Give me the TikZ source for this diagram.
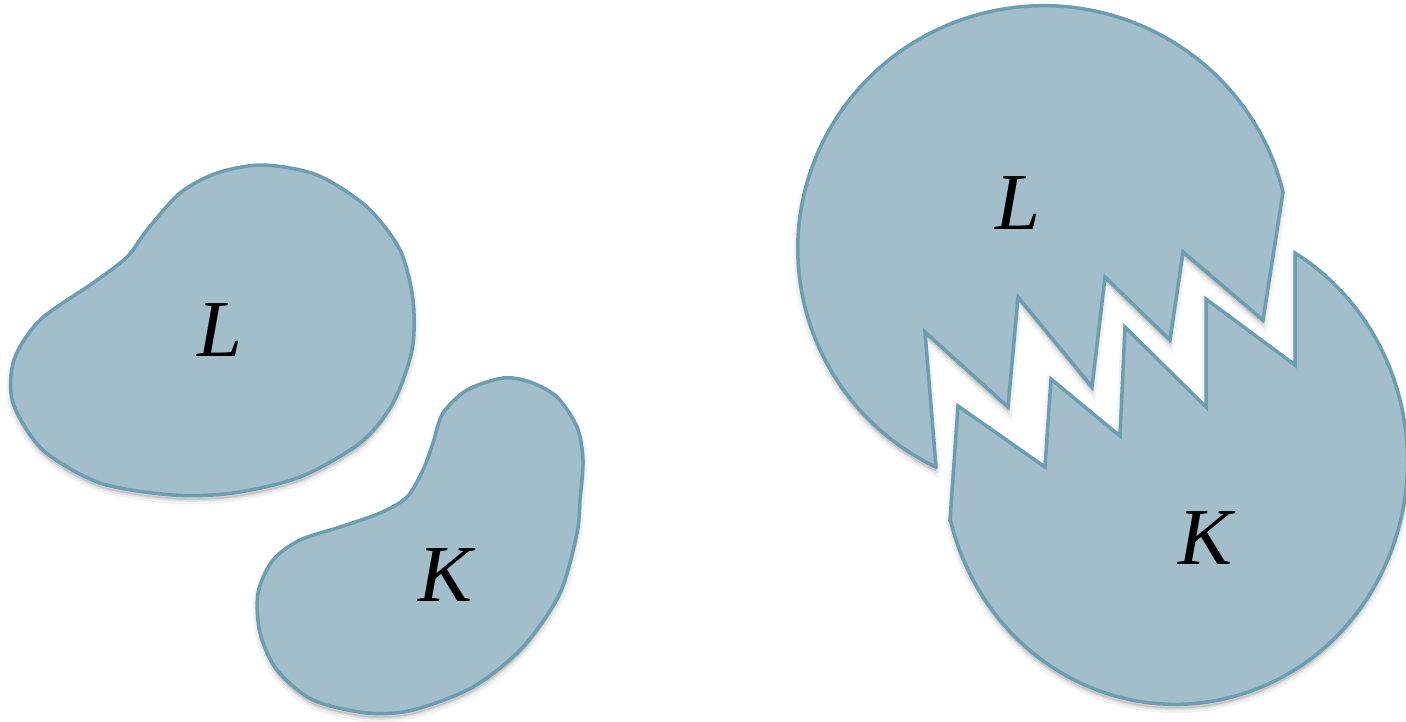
\documentclass[tikz,border=0pt]{standalone}
\usepackage{fontspec}
\setmainfont{Liberation Serif}
\usetikzlibrary{positioning}
\definecolor{cfill}{HTML}{A2BECA}
\definecolor{cedge}{HTML}{6C9EB2}
\tikzset{
  every picture/.style={line width=2pt},
  piece/.style={draw=cedge, fill=cfill,
    preaction={draw=black, draw opacity=0.05, line width=5pt, transform canvas={yshift=-2.5pt}},
    preaction={draw=black, draw opacity=0.07, line width=2pt, fill=black, fill opacity=0.12, transform canvas={yshift=-2.5pt}}},
  tag/.style={font=\fontsize{46}{50}\selectfont\itshape, inner sep=0pt},
}

\begin{document}
\begin{tikzpicture}[x=0.02cm, y=-0.02cm]
  \useasboundingbox (0,0) rectangle (1406,721);
  % two separate bodies
  \draw[piece] plot[smooth cycle, tension=0.5] coordinates {
    (263,165) (317,175) (367,207) (400,250) (413,300) (412,350) (393,403)
    (360,443) (300,477) (233,493) (173,495) (100,483) (43,450) (13,403)
    (14,360) (40,320) (93,283) (127,257) (147,230) (180,193) (217,173)};
  \draw[piece] plot[smooth cycle, tension=0.5] coordinates {
    (503,378) (530,382) (557,397) (577,427) (583,460) (580,500) (577,533)
    (560,593) (523,647) (473,687) (413,710) (367,713) (313,700) (277,670)
    (260,633) (258,593) (273,560) (300,540) (340,527) (380,513) (407,497)
    (423,470) (433,443) (443,413) (467,390)};
  \node[tag] (leftL) at (220,330) {L};
  \node[tag] (leftK) at (445,575) {K};
  % the same two pieces, interlocked by their teeth
  \draw[piece] (936,467) -- (925,332) -- (1008,407) -- (1018,297) -- (1092,387)
    -- (1105,277) -- (1170,340) -- (1183,252) -- (1263,320) -- (1283,192)
    arc[start angle=-13.5, end angle=-244, x radius=246, y radius=243] -- cycle;
  \draw[piece] (950,520) -- (958,406) -- (1045,467) -- (1051,379) -- (1120,436)
    -- (1125,327) -- (1206,407) -- (1206,299) -- (1295,365) -- (1295,253)
    arc[start angle=-59, end angle=166, x radius=232, y radius=243] -- cycle;
  \node[tag] (rightL) at (1018,203) {L};
  \node[tag] (rightK) at (1205,538) {K};
\end{tikzpicture}
\end{document}
